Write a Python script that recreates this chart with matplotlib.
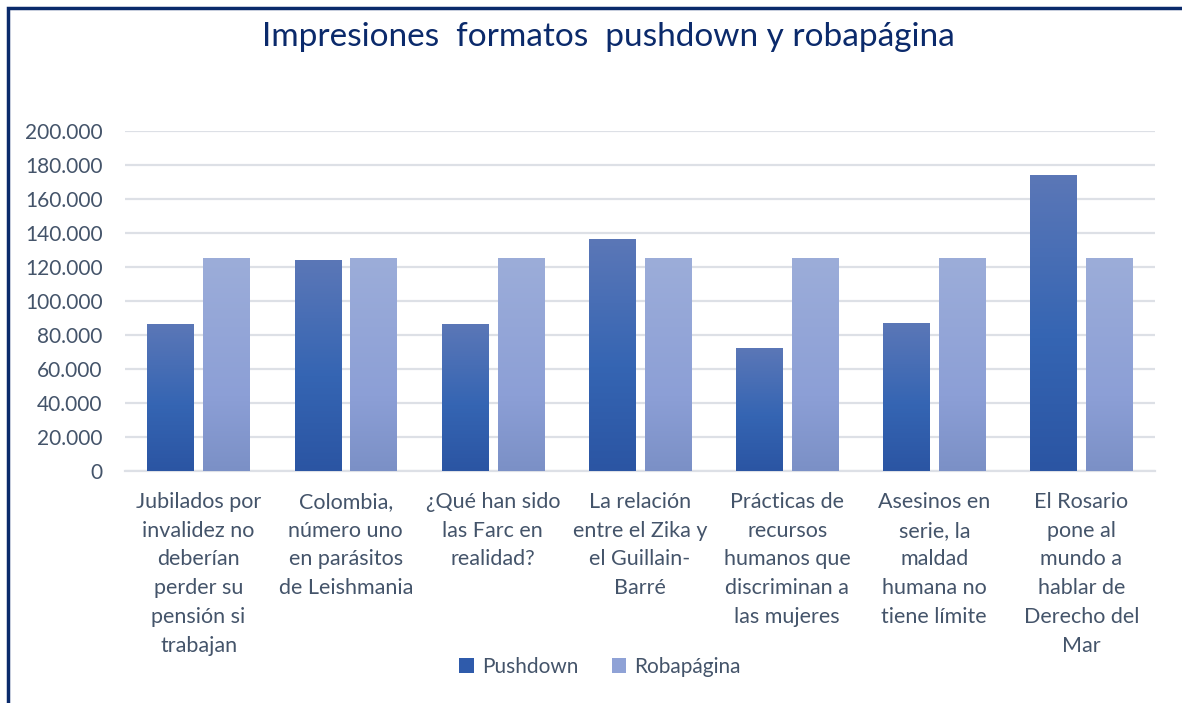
import matplotlib
matplotlib.use('Agg')
import matplotlib.pyplot as plt
import numpy as np
from matplotlib.colors import LinearSegmentedColormap
from matplotlib.patches import Patch, Rectangle
from matplotlib.ticker import FuncFormatter

plt.rcParams['font.family'] = ['Lato', 'DejaVu Sans']

categories = [
    "Jubilados por\ninvalidez no\ndeberían\nperder su\npensión si\ntrabajan",
    "Colombia,\nnúmero uno\nen parásitos\nde Leishmania",
    "¿Qué han sido\nlas Farc en\nrealidad?",
    "La relación\nentre el Zika y\nel Guillain-\nBarré",
    "Prácticas de\nrecursos\nhumanos que\ndiscriminan a\nlas mujeres",
    "Asesinos en\nserie, la\nmaldad\nhumana no\ntiene límite",
    "El Rosario\npone al\nmundo a\nhablar de\nDerecho del\nMar",
]
pushdown = [86000, 124000, 86000, 136000, 72000, 86500, 174000]
robapagina = [125000, 125000, 125000, 125000, 125000, 125000, 125000]
series_names = ["Pushdown", "Robapágina"]

text_col = '#44546A'
title_col = '#0B2A6B'
grid_col = '#DDE0E6'

# gradients: bottom -> top
cmap_push = LinearSegmentedColormap.from_list(
    'push', [(0, '#2B55A3'), (0.45, '#3565B3'), (1, '#5B77B7')])
cmap_roba = LinearSegmentedColormap.from_list(
    'roba', [(0, '#7B90C6'), (0.35, '#8C9FD6'), (1, '#9CADD9')])

fig = plt.figure(figsize=(11.82, 7.03), dpi=100)
ax = fig.add_axes([125 / 1182, 1 - 471 / 703, 1030 / 1182, 340 / 703])

x = np.arange(len(categories))
w = 0.315
off = 0.19
grad = np.linspace(0, 1, 256).reshape(-1, 1)

def gradient_bars(xs, vals, cmap):
    bars = ax.bar(xs, vals, w, color='none', edgecolor='none', zorder=3)
    for b in bars:
        x0, y0 = b.get_x(), b.get_y()
        ax.imshow(grad, cmap=cmap, origin='lower', aspect='auto',
                  extent=(x0, x0 + b.get_width(), y0, y0 + b.get_height()),
                  zorder=3)

gradient_bars(x - off, pushdown, cmap_push)
gradient_bars(x + off, robapagina, cmap_roba)

ax.set_xlim(-0.5, len(categories) - 0.5)
ax.set_ylim(0, 200000)
ax.set_yticks(np.arange(0, 200001, 20000))
ax.yaxis.set_major_formatter(FuncFormatter(lambda v, p: f"{int(v):,}".replace(',', '.')))
ax.grid(axis='y', color=grid_col, linewidth=1.6, zorder=0)
ax.set_axisbelow(True)
for s in ['top', 'right', 'left']:
    ax.spines[s].set_visible(False)
ax.spines['bottom'].set_color(grid_col)
ax.spines['bottom'].set_linewidth(1.6)

ax.set_xticks(x)
ax.set_xticklabels(categories, fontsize=15.5, color=text_col, linespacing=1.55,
                   va='top')
ax.tick_params(axis='x', length=0, pad=15)
ax.tick_params(axis='y', length=0, pad=16, labelsize=15, labelcolor=text_col)

fig.text(608 / 1182, 1 - 37 / 703, "Impresiones  formatos  pushdown y robapágina",
         ha='center', va='center', fontsize=24, color=title_col)

handles = [Patch(facecolor='#2F5BAB'), Patch(facecolor='#8FA2D6')]
fig.legend(handles, series_names, loc='center', bbox_to_anchor=(600 / 1182, 1 - 667 / 703),
           ncol=2, frameon=False, fontsize=15, labelcolor=text_col,
           handlelength=0.7, handleheight=0.7, handletextpad=0.4, columnspacing=1.6)

# chart frame (cut off at right and bottom)
fig.patches.append(Rectangle((8 / 1182, -0.1), 1.2, 1.1 - 8 / 703,
                             transform=fig.transFigure, fill=False,
                             edgecolor='#0A2A6B', linewidth=2.5))

fig.savefig('out.png', dpi=100)
